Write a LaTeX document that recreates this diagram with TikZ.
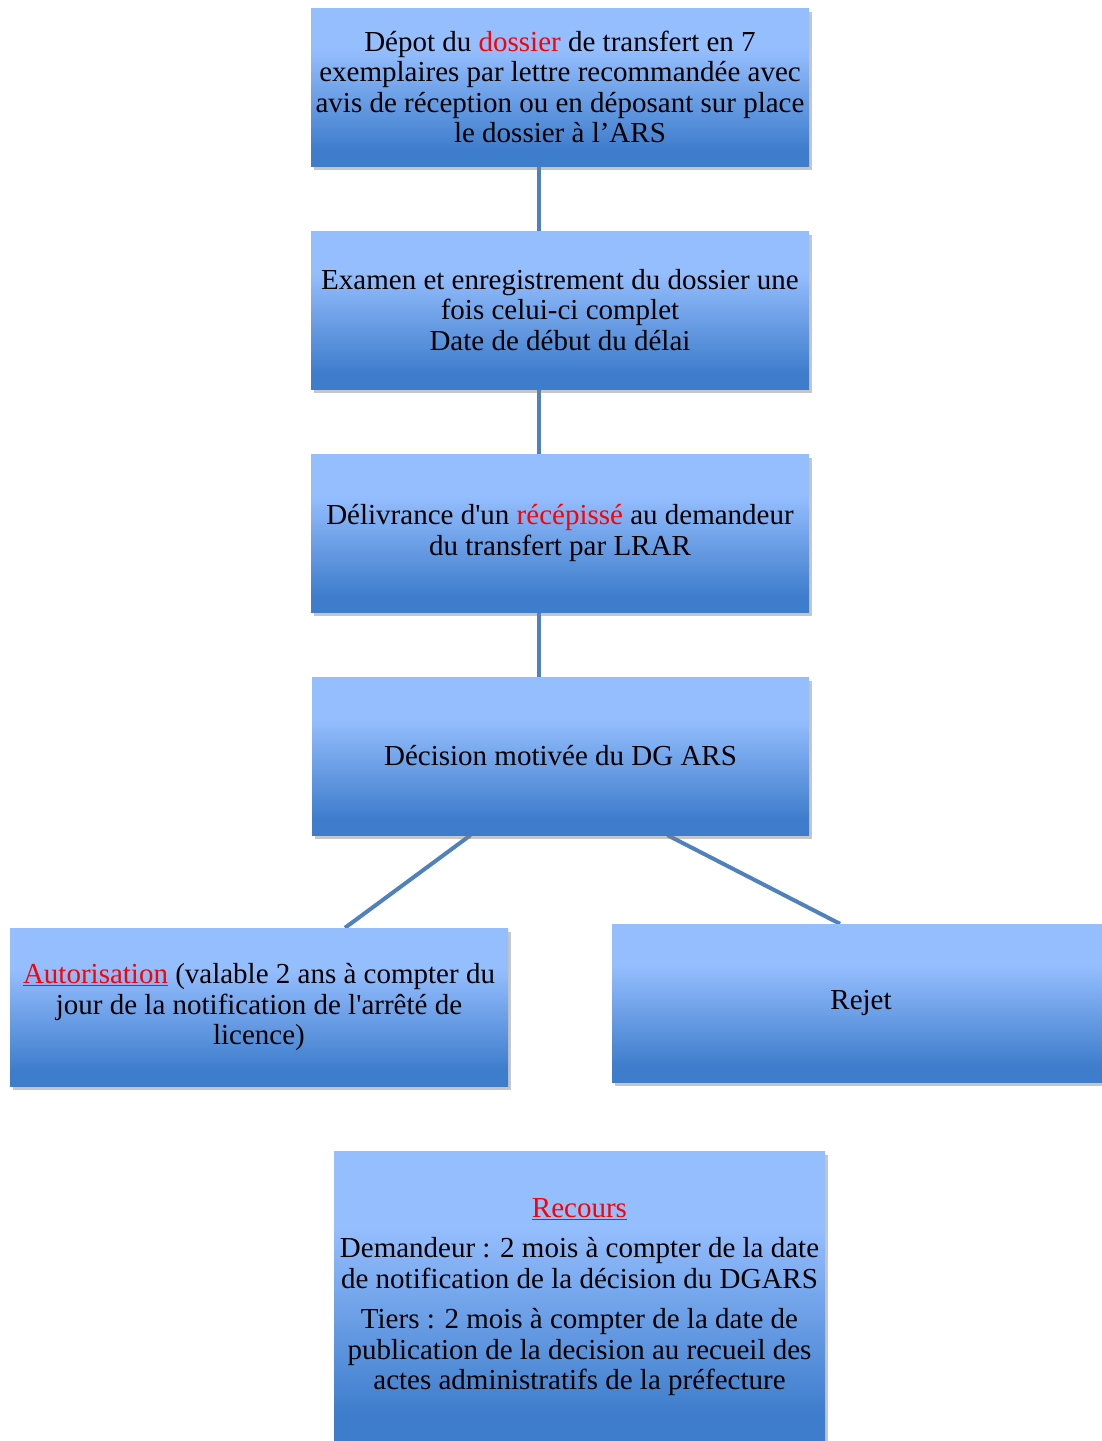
\documentclass[tikz,border=0pt]{standalone}
\usepackage{fontspec}
\setmainfont{Liberation Serif}[Ligatures=TeXOff]
\usetikzlibrary{shadows,calc,backgrounds}
\definecolor{blight}{RGB}{149,190,254}
\definecolor{bdark}{RGB}{62,125,204}
\definecolor{lineblue}{RGB}{79,129,189}
\definecolor{redtxt}{RGB}{255,0,0}
\pgfdeclareverticalshading{boxshade}{100bp}{color(0bp)=(bdark); color(30bp)=(bdark); color(62bp)=(blight); color(100bp)=(blight)}
\begin{document}
\begin{tikzpicture}[x=1pt,y=-1pt,
  box/.style={shading=boxshade, minimum width=498pt, minimum height=158pt, inner sep=0pt, align=center,
    font=\fontsize{29}{30.4}\selectfont,
    drop shadow={opacity=0.45, shadow xshift=2.5pt, shadow yshift=-4pt}},
  conn/.style={draw=lineblue, line width=4pt}]
\useasboundingbox (0,0) rectangle (1101,1441);
\node[box] (b1) at (560,87) {Dépot du \textcolor{redtxt}{dossier} de transfert en 7\\exemplaires par lettre recommandée avec\\avis de réception ou en déposant sur place\\le dossier à l’ARS};
\node[box] (b2) at (560,310) {Examen et enregistrement du dossier une\\fois celui-ci complet\\Date de début du délai};
\node[box] (b3) at (560,533) {Délivrance d'un \textcolor{redtxt}{récépissé} au demandeur\\du transfert par LRAR};
\node[box, minimum width=497pt] (b4) at (560.5,756) {Décision motivée du DG ARS};
\node[box] (b5) at (259,1007) {\textcolor{redtxt}{\underline{Autorisation}} (valable 2 ans à compter du\\jour de la notification de l'arrêté de\\licence)};
\node[box] (b6) at (861,1003) {Rejet};
\node[box, minimum width=491pt, minimum height=292pt] (b7) at (579.5,1297) {\textcolor{redtxt}{\underline{Recours}}\\[10pt]Demandeur : 2 mois à compter de la date\\de notification de la décision du DGARS\\[10pt]Tiers : 2 mois à compter de la date de\\publication de la decision au recueil des\\actes administratifs de la préfecture};
\begin{scope}[on background layer]
\draw[conn] ($(b1.south)+(-21,0)$) -- ($(b2.north)+(-21,0)$);
\draw[conn] ($(b2.south)+(-21,0)$) -- ($(b3.north)+(-21,0)$);
\draw[conn] ($(b3.south)+(-21,0)$) -- ($(b4.north)+(-21.5,0)$);
\draw[conn] ($(b4.south)+(-90,0)$) -- ($(b5.north)+(86,0)$);
\draw[conn] ($(b4.south)+(107,0)$) -- ($(b6.north)+(-21,0)$);
\end{scope}
\end{tikzpicture}
\end{document}
